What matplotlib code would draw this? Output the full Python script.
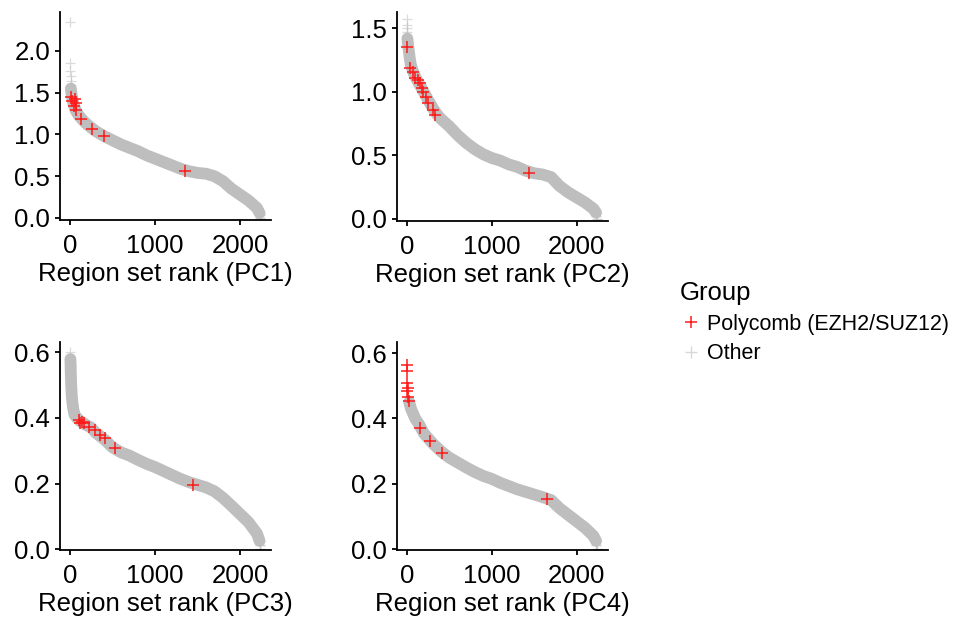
import matplotlib
matplotlib.use("Agg")
import matplotlib.pyplot as plt
from matplotlib.lines import Line2D

# ---- values (rank, score) ----
# PC1
pc1_head_rank = [1, 2, 3, 4, 5, 6]
pc1_head_score = [2.35, 1.86, 1.76, 1.70, 1.64, 1.59]
pc1_rank = [8, 15, 25, 40, 60, 80, 100, 150, 200, 250, 300, 400, 500, 600, 700, 800, 900,
            1000, 1100, 1200, 1300, 1400, 1500, 1600, 1700, 1800, 1900, 2000, 2100, 2200, 2230]
pc1_score = [1.55, 1.49, 1.43, 1.36, 1.30, 1.26, 1.23, 1.17, 1.12, 1.08, 1.04, 0.98, 0.93, 0.88, 0.84, 0.80, 0.75,
             0.71, 0.67, 0.63, 0.59, 0.56, 0.54, 0.53, 0.50, 0.44, 0.35, 0.28, 0.21, 0.12, 0.06]
pc1_tail_rank = [2235, 2240]
pc1_tail_score = [0.03, 0.0]
pc1_poly_rank = [8, 59, 20, 71, 39, 63, 129, 255, 400, 1353]
pc1_poly_score = [1.45, 1.43, 1.40, 1.38, 1.34, 1.29, 1.19, 1.07, 0.98, 0.56]

# PC2
pc2_head_rank = [1, 2, 3, 4, 5]
pc2_head_score = [1.57, 1.53, 1.50, 1.47, 1.44]
pc2_rank = [8, 20, 35, 50, 75, 100, 150, 200, 250, 300, 350, 400, 500, 600, 700, 800, 900,
            1000, 1100, 1200, 1300, 1400, 1500, 1600, 1700, 1800, 1900, 2000, 2100, 2200, 2230]
pc2_score = [1.42, 1.35, 1.27, 1.21, 1.16, 1.12, 1.06, 1.00, 0.94, 0.88, 0.83, 0.79, 0.73, 0.66, 0.60, 0.55, 0.51,
             0.48, 0.46, 0.43, 0.41, 0.38, 0.36, 0.35, 0.33, 0.26, 0.21, 0.17, 0.13, 0.08, 0.05]
pc2_tail_rank = [2235, 2240]
pc2_tail_score = [0.025, 0.0]
pc2_poly_rank = [8, 39, 78, 98, 137, 157, 176, 196, 227, 255, 314, 333, 1443]
pc2_poly_score = [1.356, 1.185, 1.16, 1.107, 1.094, 1.067, 1.028, 1.002, 0.962, 0.91, 0.858, 0.818, 0.36]

# PC3
pc3_head_rank = [1, 2]
pc3_head_score = [0.60, 0.585]
pc3_rank = [3, 5, 8, 12, 18, 25, 35, 50, 80, 120, 180, 250, 300, 350, 400, 500, 600, 700, 800, 900,
            1000, 1100, 1200, 1300, 1400, 1500, 1600, 1700, 1800, 1900, 2000, 2100, 2200, 2230]
pc3_score = [0.58, 0.56, 0.53, 0.50, 0.47, 0.45, 0.43, 0.41, 0.40, 0.39, 0.38, 0.37, 0.355, 0.345, 0.335, 0.31,
             0.295, 0.285, 0.272, 0.26, 0.25, 0.238, 0.226, 0.214, 0.204, 0.196, 0.188, 0.176, 0.156, 0.132,
             0.107, 0.082, 0.047, 0.025]
pc3_tail_rank = [2235, 2240]
pc3_tail_score = [0.012, 0.0]
pc3_poly_rank = [98, 118, 137, 157, 216, 294, 353, 412, 529, 1451]
pc3_poly_score = [0.394, 0.384, 0.389, 0.384, 0.374, 0.363, 0.348, 0.338, 0.308, 0.196]

# PC4
pc4_head_rank = []
pc4_head_score = []
pc4_rank = [30, 50, 100, 150, 200, 300, 400, 500, 600, 700, 800, 900, 1000, 1100, 1200, 1300, 1400, 1500,
            1600, 1700, 1800, 1900, 2000, 2100, 2200, 2230]
pc4_score = [0.45, 0.43, 0.40, 0.38, 0.355, 0.325, 0.30, 0.28, 0.265, 0.25, 0.236, 0.224, 0.215, 0.203, 0.193,
             0.183, 0.175, 0.167, 0.159, 0.15, 0.125, 0.105, 0.085, 0.065, 0.04, 0.025]
pc4_tail_rank = [2235, 2240]
pc4_tail_score = [0.012, 0.0]
pc4_poly_rank = [5, 3, 0, 15, 5, 20, 25, 157, 275, 412, 1647]
pc4_poly_score = [0.564, 0.544, 0.509, 0.494, 0.483, 0.467, 0.452, 0.371, 0.331, 0.295, 0.153]

pc_names = ["PC1", "PC2", "PC3", "PC4"]
y_ticks = [[0.0, 0.5, 1.0, 1.5, 2.0], [0.0, 0.5, 1.0, 1.5], [0.0, 0.2, 0.4, 0.6], [0.0, 0.2, 0.4, 0.6]]
y_lims = [(-0.024, 2.467), (-0.016, 1.629), (-0.003, 0.632), (-0.003, 0.634)]

panels = [
    (pc1_head_rank, pc1_head_score, pc1_rank, pc1_score, pc1_tail_rank, pc1_tail_score, pc1_poly_rank, pc1_poly_score),
    (pc2_head_rank, pc2_head_score, pc2_rank, pc2_score, pc2_tail_rank, pc2_tail_score, pc2_poly_rank, pc2_poly_score),
    (pc3_head_rank, pc3_head_score, pc3_rank, pc3_score, pc3_tail_rank, pc3_tail_score, pc3_poly_rank, pc3_poly_score),
    (pc4_head_rank, pc4_head_score, pc4_rank, pc4_score, pc4_tail_rank, pc4_tail_score, pc4_poly_rank, pc4_poly_score),
]

plt.rcParams['font.family'] = ['Liberation Sans', 'DejaVu Sans']

W, H = 955, 621
fig = plt.figure(figsize=(W / 100, H / 100), dpi=100)

# axes boxes in pixels: left, top, width, height
boxes = [(60, 12, 211, 208), (396.5, 12, 211, 209), (60, 342, 211, 208), (396.5, 342, 211, 208)]

grey = '#bebebe'
red = '#ff1a1a'
msize = 7.5

for i, (hr, hs, r, s, tr, ts, pr, ps) in enumerate(panels):
    left, top, w, h = boxes[i]
    ax = fig.add_axes([left / W, 1 - (top + h) / H, w / W, h / H])

    # dense band of "Other" region sets
    ax.plot(r, s, color=grey, lw=8.5, solid_capstyle='round', solid_joinstyle='round', zorder=1)
    ax.plot(r, s, ls='none', marker='+', ms=msize, mew=0.9, color=grey, alpha=0.6, zorder=2)
    ax.plot(tr, ts, ls='none', marker='+', ms=msize, mew=1.0, color=grey, alpha=0.8, zorder=2)
    if hr:
        ax.plot(hr, hs, ls='none', marker='+', ms=msize, mew=0.9, color=grey, alpha=0.55, zorder=2)
    # Polycomb region sets
    ax.plot(pr, ps, ls='none', marker='+', ms=8.5, mew=1.1, color=red, zorder=3)

    ax.set_xlim(-120, 2365)
    ax.set_ylim(*y_lims[i])
    ax.set_xticks([0, 1000, 2000])
    ax.set_yticks(y_ticks[i])
    ax.set_yticklabels([f"{t:.1f}" for t in y_ticks[i]])
    ax.set_xlabel(f"Region set rank ({pc_names[i]})", fontsize=18.5, labelpad=3)
    for sp in ['top', 'right']:
        ax.spines[sp].set_visible(False)
    for sp in ['left', 'bottom']:
        ax.spines[sp].set_linewidth(1.3)
    ax.tick_params(axis='both', length=3.6, width=1.3, labelsize=18.5, colors='black')
    ax.tick_params(axis='y', pad=3.5)
    ax.tick_params(axis='x', pad=6.5)
    ax.patch.set_alpha(0)

handles = [
    Line2D([], [], ls='none', marker='+', ms=9, mew=1.1, color=red),
    Line2D([], [], ls='none', marker='+', ms=9, mew=1.0, color=grey, alpha=0.6),
]
leg = fig.legend(handles, ["Polycomb (EZH2/SUZ12)", "Other"], title="Group",
                 loc='upper left', bbox_to_anchor=(665 / W, 1 - 266 / H), frameon=False,
                 fontsize=15.5, title_fontsize=18.5, alignment='left',
                 handlelength=1.0, handletextpad=0.25, labelspacing=0.4, borderpad=0.2)

fig.savefig("out.png", dpi=100)
